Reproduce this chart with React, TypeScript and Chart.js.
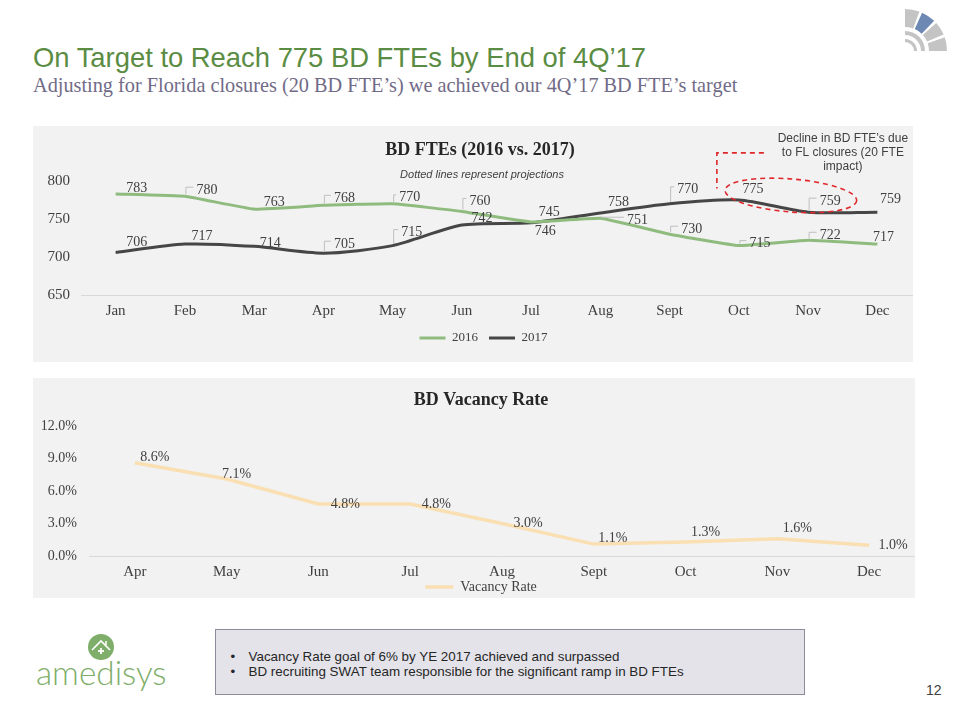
import React, { useEffect, useRef } from 'react';
import { Chart, registerables } from 'chart.js';

Chart.register(...registerables);

// ---------- data ----------
const fteMonths = ['Jan', 'Feb', 'Mar', 'Apr', 'May', 'Jun', 'Jul', 'Aug', 'Sept', 'Oct', 'Nov', 'Dec'];
const fte2016 = [783, 780, 763, 768, 770, 760, 746, 751, 730, 715, 722, 717];
const fte2017 = [706, 717, 714, 705, 715, 742, 745, 758, 770, 775, 759, 759];
const fteAxisMin = 650;
const fteAxisMax = 800;
const fteAxisStep = 50;

const vacancyMonths = ['Apr', 'May', 'Jun', 'Jul', 'Aug', 'Sept', 'Oct', 'Nov', 'Dec'];
const vacancyRate = [8.6, 7.1, 4.8, 4.8, 3.0, 1.1, 1.3, 1.6, 1.0];
const vacancyAxisMin = 0;
const vacancyAxisMax = 12;
const vacancyAxisStep = 3;

// ---------- styles ----------
const SERIF = '"Liberation Serif", "Times New Roman", serif';
const SANS = '"Liberation Sans", Arial, sans-serif';
const GREEN = '#8fbc7e';
const DARK = '#464646';
const PEACH = '#fadfb2';
const TEXT = '#404040';

// label placement (dx, dy from the point) and leader-line flags
const fteLabelOffsets = [
  [[21, -6], [22, -6], [20, -7], [21, -7], [17, -6], [18, -10], [14, 9], [37, 2], [22, -5], [21, -2], [22, -5], [6, -7]],
  [[21, -10], [17, -8], [16, -3], [21, -9], [19, -13], [20, -7], [18, -10], [18, -11], [18, -14], [14, -11], [22, -11], [13, -13]],
];
const fteLeaders = [
  [0, 1, 0, 1, 1, 1, 0, 1, 1, 1, 1, 0],
  [0, 0, 0, 1, 1, 0, 0, 0, 1, 0, 1, 0],
];
const vacancyLabelOffsets = [
  [[20, -6], [10, -5], [27, 0], [26, 0], [26, 0], [19, -6], [20, -10], [20, -10], [24, 0]],
];

type Txt = { text: string; x: number; y: number; font: string; color: string };

function makeTextPlugin(id: string, items: Txt[]) {
  return {
    id,
    afterDraw(chart: any) {
      const ctx = chart.ctx;
      ctx.save();
      ctx.textAlign = 'center';
      ctx.textBaseline = 'middle';
      items.forEach((t) => {
        ctx.font = t.font;
        ctx.fillStyle = t.color;
        ctx.fillText(t.text, t.x, t.y);
      });
      ctx.restore();
    },
  };
}

function makeLegendShift(id: string, dx: number, dy: number) {
  return {
    id,
    afterLayout(chart: any) {
      const l = chart.legend;
      if (!l) return;
      l.left += dx;
      l.right += dx;
      l.top += dy;
      l.bottom += dy;
    },
  };
}

function makeLabelPlugin(id: string, offsets: number[][][], leaders: number[][] | null, format: (v: number) => string, font: string) {
  return {
    id,
    afterDatasetsDraw(chart: any) {
      const ctx = chart.ctx;
      ctx.save();
      ctx.font = font;
      ctx.textAlign = 'center';
      ctx.textBaseline = 'middle';
      chart.data.datasets.forEach((ds: any, di: number) => {
        const meta = chart.getDatasetMeta(di);
        meta.data.forEach((el: any, i: number) => {
          const text = format(ds.data[i]);
          const off = offsets[di][i];
          const lx = el.x + off[0];
          const ly = el.y + off[1];
          if (leaders && leaders[di][i]) {
            const w = ctx.measureText(text).width;
            ctx.strokeStyle = '#bfbfbf';
            ctx.lineWidth = 1;
            ctx.beginPath();
            ctx.moveTo(el.x + 1, el.y - 2);
            ctx.lineTo(el.x + 1, ly - 3);
            ctx.lineTo(lx - w / 2 - 3, ly - 3);
            ctx.stroke();
          }
          ctx.fillStyle = TEXT;
          ctx.fillText(text, lx, ly);
        });
      });
      ctx.restore();
    },
  };
}

const fteAnnotation = {
  id: 'fteAnnotation',
  afterDraw(chart: any) {
    const { ctx, scales } = chart;
    const xOct = scales.x.getPixelForValue(9);
    const yS = scales.y;
    ctx.save();
    ctx.strokeStyle = '#e0282c';
    ctx.lineWidth = 1.6;
    ctx.setLineDash([5, 4]);
    // bracket
    ctx.beginPath();
    ctx.moveTo(xOct + 25, yS.getPixelForValue(837));
    ctx.lineTo(xOct - 22, yS.getPixelForValue(837));
    ctx.lineTo(xOct - 22, yS.getPixelForValue(790));
    ctx.stroke();
    // ellipse
    ctx.beginPath();
    ctx.ellipse(xOct + 52, yS.getPixelForValue(781), 66, 16.5, 0.08, 0, Math.PI * 2);
    ctx.stroke();
    ctx.setLineDash([]);
    ctx.fillStyle = TEXT;
    ctx.font = '12px ' + SANS;
    ctx.textAlign = 'center';
    ctx.textBaseline = 'middle';
    const cx = xOct + 104;
    ['Decline in BD FTE\u2019s due', 'to FL closures (20 FTE', 'impact)'].forEach((line, i) => {
      ctx.fillText(line, cx, 13 + i * 14);
    });
    ctx.restore();
  },
};

function buildFteConfig(): any {
  return {
    type: 'line',
    data: {
      labels: fteMonths,
      datasets: [
        { label: '2016', data: fte2016, borderColor: GREEN, backgroundColor: GREEN, borderWidth: 3, pointRadius: 0, tension: 0.1 },
        { label: '2017', data: fte2017, borderColor: DARK, backgroundColor: DARK, borderWidth: 3, pointRadius: 0, tension: 0.25 },
      ],
    },
    options: {
      responsive: false,
      maintainAspectRatio: false,
      animation: false,
      layout: { padding: { top: 55, right: 1, bottom: 1, left: 0 } },
      scales: {
        x: {
          offset: true,
          grid: { display: false, drawTicks: false },
          border: { display: true, color: '#d9d9d9', width: 1 },
          ticks: { padding: 7, color: TEXT, font: { family: SERIF, size: 15 } },
        },
        y: {
          min: fteAxisMin,
          max: fteAxisMax,
          grid: { display: false, drawTicks: false },
          border: { display: false },
          ticks: { stepSize: fteAxisStep, padding: 11, color: TEXT, font: { family: SERIF, size: 15 } },
          afterFit: (s: any) => { s.width = 48; },
        },
      },
      plugins: {
        legend: {
          position: 'bottom',
          labels: {
            usePointStyle: true,
            pointStyle: 'line',
            pointStyleWidth: 26,
            padding: 11,
            color: TEXT,
            font: { family: SERIF, size: 13 },
          },
        },
        title: { display: false },
        tooltip: { enabled: false },
      },
    },
    plugins: [
      makeLegendShift('fteLegendShift', 11, -6.5),
      makeTextPlugin('fteTitles', [
        { text: 'BD FTEs (2016 vs. 2017)', x: 447, y: 24, font: 'bold 18px ' + SERIF, color: '#262626' },
        { text: 'Dotted lines represent projections', x: 449, y: 49, font: 'italic 11px ' + SANS, color: TEXT },
      ]),
      makeLabelPlugin('fteLabels', fteLabelOffsets, fteLeaders, (v) => String(v), '14px ' + SERIF),
      fteAnnotation,
    ],
  };
}

function buildVacancyConfig(): any {
  return {
    type: 'line',
    data: {
      labels: vacancyMonths,
      datasets: [
        { label: 'Vacancy Rate', data: vacancyRate, borderColor: PEACH, backgroundColor: PEACH, borderWidth: 3.5, pointRadius: 0, tension: 0 },
      ],
    },
    options: {
      responsive: false,
      maintainAspectRatio: false,
      animation: false,
      layout: { padding: { top: 48, right: 0, bottom: 0, left: 0 } },
      scales: {
        x: {
          offset: true,
          grid: { display: false, drawTicks: false },
          border: { display: true, color: '#d9d9d9', width: 1 },
          ticks: { padding: 7, color: TEXT, font: { family: SERIF, size: 15 } },
        },
        y: {
          min: vacancyAxisMin,
          max: vacancyAxisMax,
          grid: { display: false, drawTicks: false },
          border: { display: false },
          ticks: {
            stepSize: vacancyAxisStep,
            padding: 12,
            color: TEXT,
            font: { family: SERIF, size: 14 },
            callback: (v: any) => Number(v).toFixed(1) + '%',
          },
          afterFit: (s: any) => { s.width = 56; },
        },
      },
      plugins: {
        legend: {
          position: 'bottom',
          labels: {
            usePointStyle: true,
            pointStyle: 'line',
            pointStyleWidth: 28,
            padding: 0,
            color: TEXT,
            font: { family: SERIF, size: 14 },
          },
        },
        title: { display: false },
        tooltip: { enabled: false },
      },
    },
    plugins: [
      makeLegendShift('vacLegendShift', 7, -8),
      makeTextPlugin('vacTitles', [
        { text: 'BD Vacancy Rate', x: 448, y: 22, font: 'bold 18px ' + SERIF, color: '#262626' },
      ]),
      makeLabelPlugin('vacLabels', vacancyLabelOffsets, null, (v) => v.toFixed(1) + '%', '14px ' + SERIF),
    ],
  };
}

function ChartCanvas(props: { build: () => any; left: number; top: number; width: number; height: number }) {
  const ref = useRef<HTMLCanvasElement>(null);
  useEffect(() => {
    const chart = new Chart(ref.current as HTMLCanvasElement, props.build());
    return () => chart.destroy();
  }, []);
  return (
    <canvas
      ref={ref}
      width={props.width}
      height={props.height}
      style={{ position: 'absolute', left: props.left, top: props.top, width: props.width, height: props.height, display: 'block' }}
    />
  );
}

function CornerLogo() {
  const cx = 905;
  const cy = 51;
  const wedge = (r1: number, r2: number, a1: number, a2: number) => {
    const rad = (a: number) => (a * Math.PI) / 180;
    const p = (r: number, a: number) => `${cx + r * Math.cos(rad(a))},${cy - r * Math.sin(rad(a))}`;
    return `M${p(r1, a1)} L${p(r2, a1)} A${r2},${r2} 0 0 0 ${p(r2, a2)} L${p(r1, a2)} A${r1},${r1} 0 0 1 ${p(r1, a1)} Z`;
  };
  return (
    <svg width={960} height={70} style={{ position: 'absolute', left: 0, top: 0 }}>
      <path d={wedge(24, 42, 70, 90)} fill="#c4c4c4" />
      <path d={wedge(24, 42, 46, 66)} fill="#6d88b3" />
      <path d={wedge(24, 42, 23, 42)} fill="#c4c4c4" />
      <path d={wedge(24, 42, 0, 19)} fill="#c4c4c4" />
      <path d={wedge(16, 20, 0, 90)} fill="#c4c4c4" />
      <path d={wedge(9, 12, 0, 90)} fill="#c4c4c4" />
    </svg>
  );
}

function AmedisysLogo() {
  return (
    <>
      <svg width={40} height={40} style={{ position: 'absolute', left: 81, top: 627 }}>
        <circle cx={20} cy={20} r={13} fill="#7eae69" />
        <polyline points="11,23 20,14 29,23" fill="none" stroke="#fff" strokeWidth={1.6} />
        <line x1={25} y1={18} x2={25} y2={14} stroke="#fff" strokeWidth={1.6} />
        <line x1={20} y1={21} x2={20} y2={27} stroke="#fff" strokeWidth={1.8} />
        <line x1={17} y1={24} x2={23} y2={24} stroke="#fff" strokeWidth={1.8} />
      </svg>
      <div
        style={{
          position: 'absolute', left: 36, top: 656, fontFamily: 'Lato, "Noto Sans", sans-serif', fontWeight: 300,
          fontSize: 33.3, lineHeight: 1, color: '#7eae69', whiteSpace: 'nowrap',
        }}
      >
        amedisys
      </div>
    </>
  );
}

export default function App() {
  return (
    <div style={{ position: 'absolute', left: 0, top: 0, width: 960, height: 720, background: '#fff', overflow: 'hidden' }}>
      <CornerLogo />
      <div style={{ position: 'absolute', left: 33, top: 44, fontFamily: SANS, fontSize: 27.4, lineHeight: 1, color: '#5a8c43', whiteSpace: 'nowrap' }}>
        On Target to Reach 775 BD FTEs by End of 4Q’17
      </div>
      <div style={{ position: 'absolute', left: 33, top: 75, fontFamily: SERIF, fontSize: 20.3, lineHeight: 1, color: '#716b87', whiteSpace: 'nowrap' }}>
        Adjusting for Florida closures (20 BD FTE’s) we achieved our 4Q’17 BD FTE’s target
      </div>

      <div style={{ position: 'absolute', left: 33, top: 126, width: 880, height: 236, background: '#f2f2f2' }} />
      <ChartCanvas build={buildFteConfig} left={33} top={126} width={880} height={236} />

      <div style={{ position: 'absolute', left: 33, top: 378, width: 882, height: 220, background: '#f2f2f2' }} />
      <ChartCanvas build={buildVacancyConfig} left={33} top={378} width={882} height={234} />

      <AmedisysLogo />

      <div
        style={{
          position: 'absolute', left: 215, top: 629, width: 588, height: 64, background: '#e4e3ea',
          border: '1.5px solid #8c8b9b', fontFamily: SANS, fontSize: 13.4, color: '#262626',
        }}
      >
        <div style={{ position: 'absolute', left: 14.5, top: 18.5, lineHeight: '15px', whiteSpace: 'nowrap' }}>
          <div><span style={{ display: 'inline-block', width: 18 }}>•</span>Vacancy Rate goal of 6% by YE 2017 achieved and surpassed</div>
          <div><span style={{ display: 'inline-block', width: 18 }}>•</span>BD recruiting SWAT team responsible for the significant ramp in BD FTEs</div>
        </div>
      </div>

      <div style={{ position: 'absolute', left: 926, top: 683, fontFamily: SANS, fontSize: 14, lineHeight: 1, color: TEXT }}>12</div>
    </div>
  );
}
